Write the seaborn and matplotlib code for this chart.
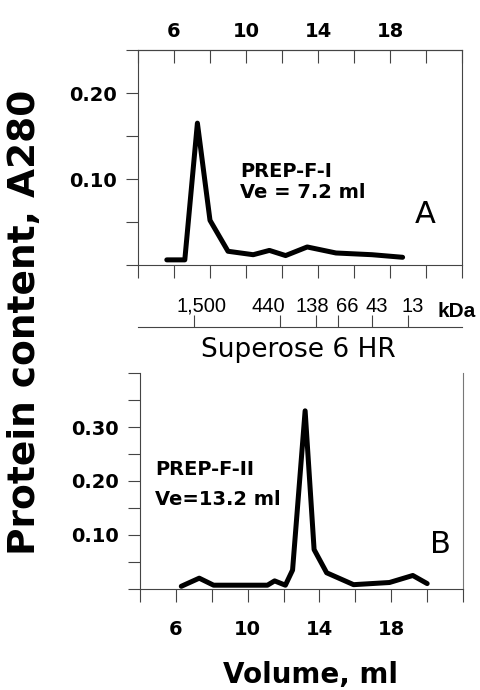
import numpy as np
import pandas as pd
import seaborn as sns
import matplotlib.pyplot as plt

# Panel A: PREP-F-I elution profile (volume in ml, A280)
vol_a = [5.6, 6.6, 7.3, 8.0, 9.0, 10.4, 11.3, 12.2, 13.4, 15.0, 17.0, 18.7]
abs_a = [0.006, 0.006, 0.165, 0.052, 0.016, 0.012, 0.017, 0.011, 0.021, 0.014, 0.012, 0.009]

# Panel B: PREP-F-II elution profile
vol_b = [6.3, 7.3, 8.1, 11.1, 11.5, 12.1, 12.5, 13.2, 13.7, 14.4, 15.9, 17.9, 19.2, 20.0]
abs_b = [0.005, 0.020, 0.007, 0.007, 0.015, 0.007, 0.035, 0.330, 0.073, 0.030, 0.008, 0.012, 0.025, 0.010]

# molecular weight markers on the Superose 6 HR column
mw_labels = ["1,500", "440", "138", "66", "43", "13"]
mw_volume = [7.1, 11.9, 13.9, 15.1, 17.0, 19.0]
# small sideways nudges (points) so the crowded labels sit like the original
mw_nudge = [5.8, -8.6, -2.9, 6.5, 3.6, 3.6]

x_ticks = [4, 6, 8, 10, 12, 14, 16, 18, 20, 22]
x_labels = ["", "6", "", "10", "", "14", "", "18", "", ""]
y_ticks_a = [0, 0.05, 0.10, 0.15, 0.20, 0.25]
y_labels_a = ["", "", "0.10", "", "0.20", ""]
y_ticks_b = [0, 0.05, 0.10, 0.15, 0.20, 0.25, 0.30, 0.35, 0.40]
y_labels_b = ["", "", "0.10", "", "0.20", "", "0.30", "", ""]

df_a = pd.DataFrame({"volume": vol_a, "a280": abs_a})
df_b = pd.DataFrame({"volume": vol_b, "a280": abs_b})

sns.set_theme(style="ticks")
plt.rcParams["font.family"] = ["DejaVu Sans"]
plt.rcParams["text.color"] = "black"
plt.rcParams["axes.labelcolor"] = "black"
plt.rcParams["axes.edgecolor"] = "#444444"
plt.rcParams["axes.linewidth"] = 0.8
plt.rcParams["xtick.color"] = "#444444"
plt.rcParams["ytick.color"] = "#444444"
plt.rcParams["xtick.labelcolor"] = "black"
plt.rcParams["ytick.labelcolor"] = "black"

fig = plt.figure(figsize=(4.8, 6.9), dpi=100)

tick_kw = dict(length=9, width=0.8, labelsize=14)

############################
## Panel A                ##
############################
ax_a = fig.add_axes([0.2875, 0.6159, 0.675, 0.3116])
sns.lineplot(data=df_a, x="volume", y="a280", color="black", lw=3.6, ax=ax_a)
ax_a.lines[0].set_solid_joinstyle("round")
ax_a.set_xlim(4, 22)
ax_a.set_ylim(0, 0.25)
ax_a.set_xlabel("")
ax_a.set_ylabel("")
ax_a.set_xticks(x_ticks)
ax_a.tick_params(axis="x", direction="out", bottom=True, top=False,
                 labelbottom=False, **tick_kw)
ax_a.set_yticks(y_ticks_a, y_labels_a, fontweight="bold")
ax_a.tick_params(axis="y", direction="out", pad=6, **tick_kw)

top_a = ax_a.secondary_xaxis("top")
top_a.set_xticks(x_ticks, x_labels, fontweight="bold")
top_a.tick_params(direction="in", pad=6.8, **tick_kw)

ax_a.text(0.315, 0.409, "PREP-F-I", transform=ax_a.transAxes,
          fontsize=14, fontweight="bold", va="baseline")
ax_a.text(0.315, 0.312, "Ve = 7.2 ml", transform=ax_a.transAxes,
          fontsize=14, fontweight="bold", va="baseline")
ax_a.text(0.886, 0.195, "A", transform=ax_a.transAxes,
          fontsize=22, ha="center", va="baseline")

############################
## Molecular weight scale ##
############################
ax_m = fig.add_axes([0.2875, 0.526, 0.675, 0.03])
ax_m.set_xlim(4, 22)
ax_m.set_ylim(0, 1)
ax_m.patch.set_alpha(0)
for side in ["top", "left", "right"]:
    ax_m.spines[side].set_visible(False)
ax_m.set_yticks([])
ax_m.set_xticks(mw_volume)
ax_m.tick_params(axis="x", direction="in", length=8.6, width=0.8,
                 labelbottom=False)
for lab, v, dx in zip(mw_labels, mw_volume, mw_nudge):
    ax_m.annotate(lab, xy=(v, 0), xycoords=("data", "axes fraction"),
                  xytext=(dx, 11), textcoords="offset points",
                  ha="center", va="baseline", fontsize=14.5,
                  family=["Liberation Sans", "DejaVu Sans"])
ax_m.annotate("kDa", xy=(0.923, 0), xycoords="axes fraction",
              xytext=(0, 7), textcoords="offset points", fontsize=15,
              fontweight="bold", ha="left", va="baseline",
              family=["Liberation Sans", "DejaVu Sans"])

fig.text(0.621, 0.483, "Superose 6 HR", fontsize=19, ha="center", va="baseline")

############################
## Panel B                ##
############################
ax_b = fig.add_axes([0.2917, 0.1464, 0.673, 0.313])
sns.lineplot(data=df_b, x="volume", y="a280", color="black", lw=3.6, ax=ax_b)
ax_b.lines[0].set_solid_joinstyle("round")
ax_b.set_xlim(4, 22)
ax_b.set_ylim(0, 0.40)
ax_b.set_xlabel("")
ax_b.set_ylabel("")
ax_b.spines["top"].set_visible(False)
ax_b.spines["right"].set_color("#777777")
ax_b.set_xticks(x_ticks, x_labels, fontweight="bold")
ax_b.tick_params(axis="x", direction="out", pad=13, **tick_kw)
ax_b.set_yticks(y_ticks_b, y_labels_b, fontweight="bold")
ax_b.tick_params(axis="y", direction="out", pad=6, **tick_kw)

ax_b.text(0.046, 0.528, "PREP-F-II", transform=ax_b.transAxes,
          fontsize=14, fontweight="bold", va="baseline")
ax_b.text(0.046, 0.389, "Ve=13.2 ml", transform=ax_b.transAxes,
          fontsize=14, fontweight="bold", va="baseline")
ax_b.text(0.929, 0.167, "B", transform=ax_b.transAxes,
          fontsize=22, ha="center", va="baseline")

# shared axis titles
fig.text(0.052, 0.533, "Protein content, A280", rotation=90, fontsize=27,
         fontweight="bold", ha="center", va="center")
fig.text(0.646, 0.0101, "Volume, ml", fontsize=20, fontweight="bold",
         ha="center", va="baseline")

fig.savefig("out.png", dpi=100)
